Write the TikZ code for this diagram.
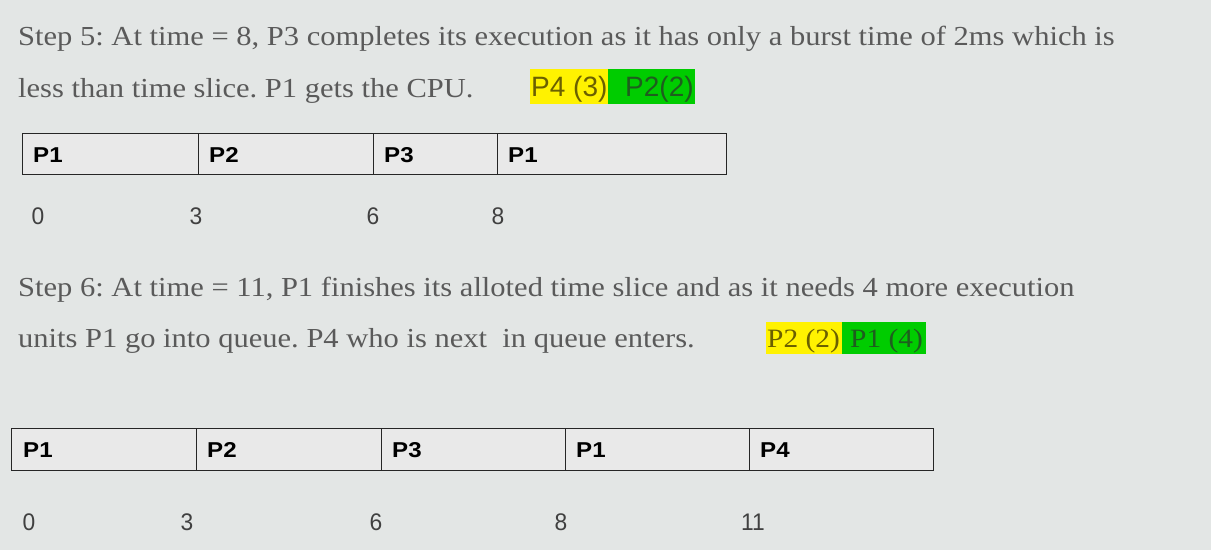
\documentclass[tikz,border=0pt]{standalone}
\usepackage{fontspec}
\setmainfont[FakeStretch=1.11]{Liberation Serif}
\newfontfamily\hlsans[FakeStretch=1.0]{Liberation Sans}
\newfontfamily\gsans[FakeStretch=1.12]{Liberation Sans Bold}
\newfontfamily\numsans[FakeStretch=0.95]{Liberation Sans}
\definecolor{bgc}{HTML}{E3E6E5}
\definecolor{txtc}{HTML}{5A5A5A}
\definecolor{cellc}{HTML}{E9E9E9}
\definecolor{linec}{HTML}{262626}
\definecolor{hly}{HTML}{FFF200}
\definecolor{hlg}{HTML}{00CC00}
\definecolor{hlyt}{HTML}{6B6000}
\definecolor{hlgt}{HTML}{1E5E1E}
\tikzset{
  body/.style={anchor=base west, inner sep=0pt, text=txtc, font=\fontsize{27.5}{30}\selectfont},
  cell/.style={draw=linec, line width=1.2pt, fill=cellc, anchor=north west, inner sep=0pt},
  clab/.style={anchor=base west, inner sep=0pt, text=black, font=\gsans\fontsize{21.5}{24}\selectfont},
  num/.style={anchor=base, inner sep=0pt, text=black!75, font=\numsans\fontsize{24}{26}\selectfont},
  hlbox/.style={anchor=north west, inner sep=0pt, draw=none},
}
\begin{document}
\frenchspacing
\begin{tikzpicture}[x=1pt,y=-1pt]
\useasboundingbox (0,0) rectangle (1211,550);
\fill[bgc] (0,0) rectangle (1211,550);
% Step 5 text
\node[body] (s5a) at (18,45) {Step 5: At time = 8, P3 completes its execution as it has only a burst time of 2ms which is};
\node[body] (s5b) at (18,97) {less than time slice. P1 gets the CPU.};
% highlights step 5
\node[hlbox, fill=hly, minimum width=78, minimum height=35] (y5) at (530,69) {};
\node[hlbox, fill=hlg, minimum width=87, minimum height=35] (g5) at (608,69) {};
\node[anchor=base west, inner sep=0pt, text=hlyt, font=\hlsans\fontsize{28}{30}\selectfont] (y5t) at (531,96) {P4 (3)};
\node[anchor=base west, inner sep=0pt, text=hlgt, font=\hlsans\fontsize{28}{30}\selectfont] (g5t) at (625,96) {P2(2)};
% Gantt 1
\node[cell, minimum width=176, minimum height=41] (a1) at (22,133) {};
\node[cell, minimum width=175, minimum height=41] (a2) at (198,133) {};
\node[cell, minimum width=124, minimum height=41] (a3) at (373,133) {};
\node[cell, minimum width=229, minimum height=41] (a4) at (497,133) {};
\node[clab] (la1) at (33,162) {P1};
\node[clab] (la2) at (209,162) {P2};
\node[clab] (la3) at (384,162) {P3};
\node[clab] (la4) at (508,162) {P1};
\node[num] (na0) at (38,224) {0};
\node[num] (na1) at (196,224) {3};
\node[num] (na2) at (373,224) {6};
\node[num] (na3) at (498,224) {8};
% Step 6 text
\node[body] (s6a) at (18,296) {Step 6: At time = 11, P1 finishes its alloted time slice and as it needs 4 more execution};
\node[body] (s6b) at (18,347) {units P1 go into queue. P4 who is next\ \ in queue enters.};
% highlights step 6
\node[hlbox, fill=hly, minimum width=76, minimum height=32] (y6) at (766,322) {};
\node[hlbox, fill=hlg, minimum width=84, minimum height=32] (g6) at (842,322) {};
\node[anchor=base west, inner sep=0pt, text=hlyt, font=\fontsize{26.5}{30}\selectfont] (y6t) at (767,347) {P2 (2)};
\node[anchor=base west, inner sep=0pt, text=hlgt, font=\fontsize{26.5}{30}\selectfont] (g6t) at (850,347) {P1 (4)};
% Gantt 2
\node[cell, minimum width=185, minimum height=42] (b1) at (11,428) {};
\node[cell, minimum width=185, minimum height=42] (b2) at (196,428) {};
\node[cell, minimum width=184, minimum height=42] (b3) at (381,428) {};
\node[cell, minimum width=184, minimum height=42] (b4) at (565,428) {};
\node[cell, minimum width=184, minimum height=42] (b5) at (749,428) {};
\node[clab] (lb1) at (23,457) {P1};
\node[clab] (lb2) at (207,457) {P2};
\node[clab] (lb3) at (392,457) {P3};
\node[clab] (lb4) at (576,457) {P1};
\node[clab] (lb5) at (760,457) {P4};
\node[num] (nb0) at (29,530) {0};
\node[num] (nb1) at (187,530) {3};
\node[num] (nb2) at (376,530) {6};
\node[num] (nb3) at (561,530) {8};
\node[num] (nb4) at (753,530) {11};
\end{tikzpicture}
\end{document}
